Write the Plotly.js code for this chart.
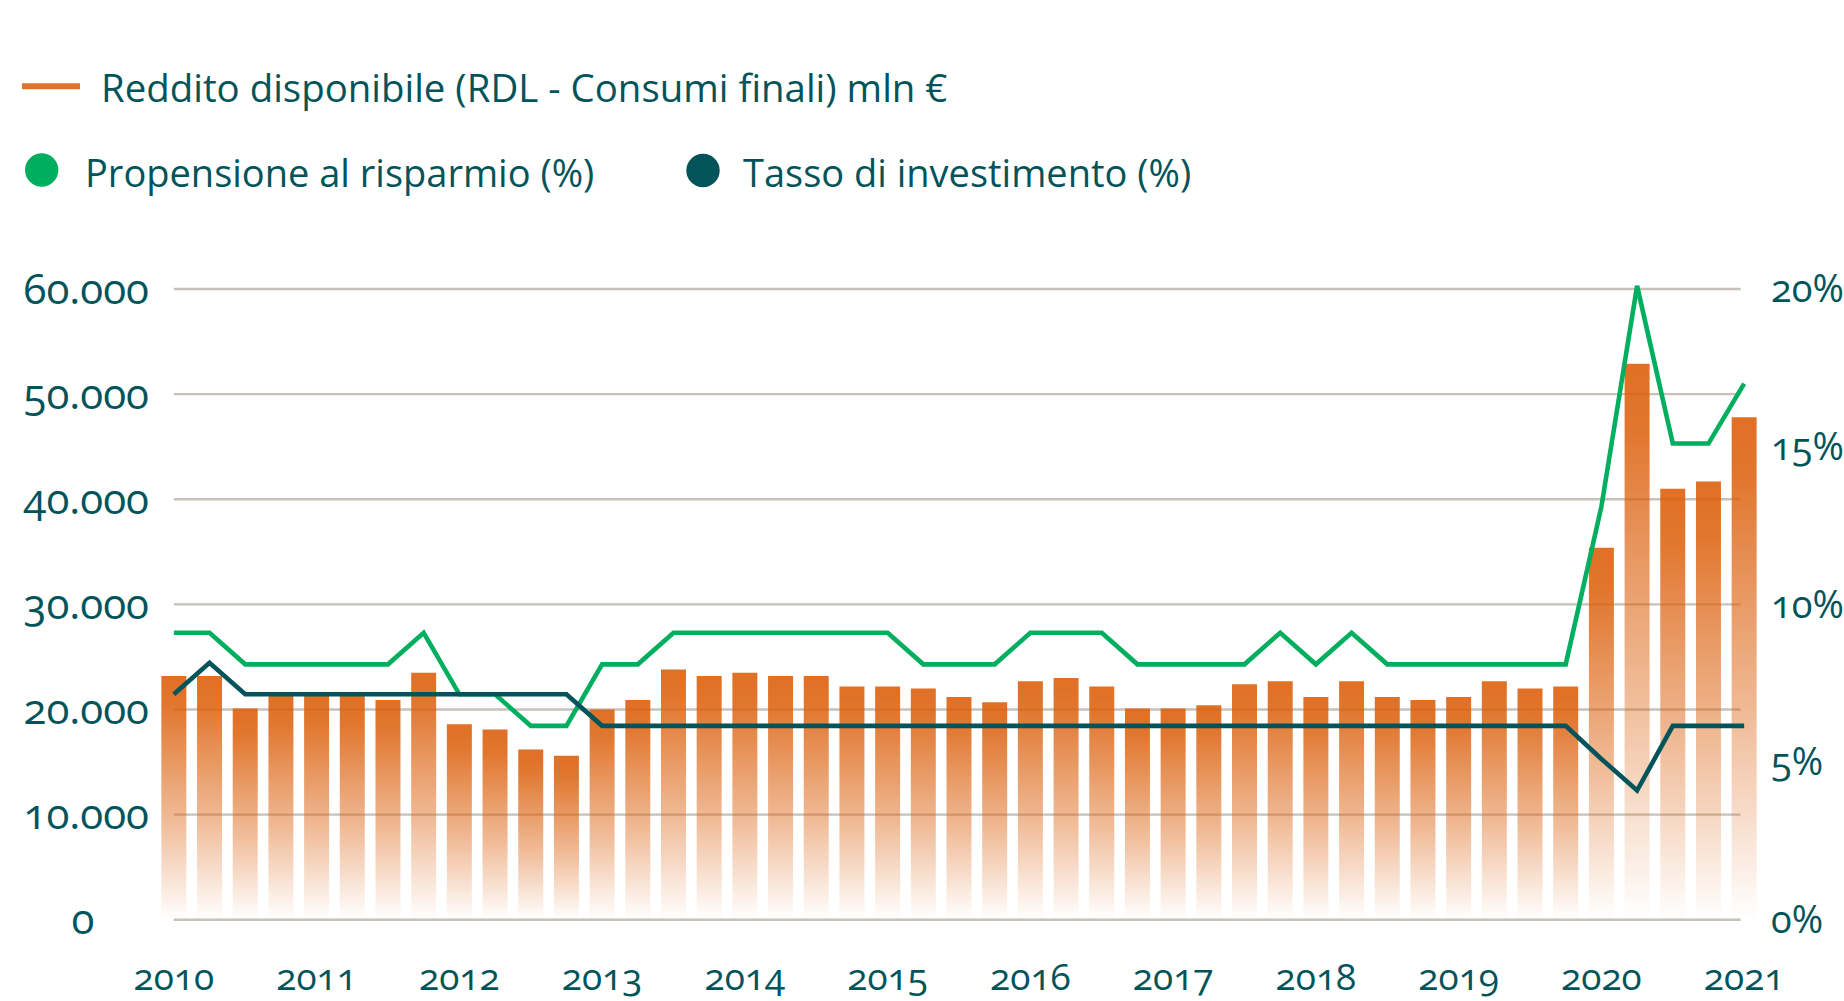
<!DOCTYPE html>
<html>
<head>
<meta charset="utf-8">
<script src="https://cdn.plot.ly/plotly-3.0.1.min.js"></script>
<style>
  html, body { margin: 0; padding: 0; background: #ffffff; }
  #chart { width: 1844px; height: 1001px; }
  .main-svg text { font-variant-numeric: oldstyle-nums !important; font-feature-settings: "onum" 1 !important; }
</style>
</head>
<body>
<div id="chart"></div>
<script>
// ---------- DATA ----------
const quarters = [
  '2010-T1','2010-T2','2010-T3','2010-T4',
  '2011-T1','2011-T2','2011-T3','2011-T4',
  '2012-T1','2012-T2','2012-T3','2012-T4',
  '2013-T1','2013-T2','2013-T3','2013-T4',
  '2014-T1','2014-T2','2014-T3','2014-T4',
  '2015-T1','2015-T2','2015-T3','2015-T4',
  '2016-T1','2016-T2','2016-T3','2016-T4',
  '2017-T1','2017-T2','2017-T3','2017-T4',
  '2018-T1','2018-T2','2018-T3','2018-T4',
  '2019-T1','2019-T2','2019-T3','2019-T4',
  '2020-T1','2020-T2','2020-T3','2020-T4',
  '2021-T1'
];

// Reddito disponibile (RDL - Consumi finali), mln €
const reddito = [
  23200, 23200, 20100, 21300,
  21300, 21300, 20900, 23500,
  18600, 18100, 16200, 15600,
  20000, 20900, 23800, 23200,
  23500, 23200, 23200, 22200,
  22200, 22000, 21200, 20700,
  22700, 23000, 22200, 20100,
  20100, 20400, 22400, 22700,
  21200, 22700, 21200, 20900,
  21200, 22700, 22000, 22200,
  35400, 52900, 41000, 41700,
  47800
];

// Propensione al risparmio (%)
const propensione = [
  9.1, 9.1, 8.1, 8.1,
  8.1, 8.1, 8.1, 9.1,
  7.15, 7.15, 6.15, 6.15,
  8.1, 8.1, 9.1, 9.1,
  9.1, 9.1, 9.1, 9.1,
  9.1, 8.1, 8.1, 8.1,
  9.1, 9.1, 9.1, 8.1,
  8.1, 8.1, 8.1, 9.1,
  8.1, 9.1, 8.1, 8.1,
  8.1, 8.1, 8.1, 8.1,
  13.1, 20.1, 15.1, 15.1,
  17.0
];

// Tasso di investimento (%)
const investimento = [
  7.15, 8.15, 7.15, 7.15,
  7.15, 7.15, 7.15, 7.15,
  7.15, 7.15, 7.15, 7.15,
  6.15, 6.15, 6.15, 6.15,
  6.15, 6.15, 6.15, 6.15,
  6.15, 6.15, 6.15, 6.15,
  6.15, 6.15, 6.15, 6.15,
  6.15, 6.15, 6.15, 6.15,
  6.15, 6.15, 6.15, 6.15,
  6.15, 6.15, 6.15, 6.15,
  5.1, 4.1, 6.15, 6.15,
  6.15
];

const yearTickVals = ['2010-T1','2011-T1','2012-T1','2013-T1','2014-T1','2015-T1','2016-T1','2017-T1','2018-T1','2019-T1','2020-T1','2021-T1'];
const yearTickText = ['2010','2011','2012','2013','2014','2015','2016','2017','2018','2019','2020','2021'];

const leftTickVals = [0, 10000, 20000, 30000, 40000, 50000, 60000];
const leftTickText = ['0', '10.000', '20.000', '30.000', '40.000', '50.000', '60.000'];

const rightTickVals = [0, 5, 10, 15, 20];
const rightTickText = ['0%', '5%', '10%', '15%', '20%'];

const legendLabels = [
  'Reddito disponibile (RDL - Consumi finali) mln €',
  'Propensione al risparmio (%)',
  'Tasso di investimento (%)'
];

// ---------- STYLE ----------
const TEAL = '#02545a';
const GREEN = '#00ae5f';
const ORANGE = '#e07329';
const GRID = '#c6c2ba';
const FONT = '"Open Sans", "Noto Sans", sans-serif';

// plot-area geometry (pixels)
const M = { l: 156, r: 82, t: 268, b: 77 };
const W = 1844, H = 1001;
const PW = W - M.l - M.r, PH = H - M.t - M.b;
const px2x = px => (px - M.l) / PW;
const py2y = py => (H - M.b - py) / PH;

const yMin = -400, yMax = 62000, ratio = 3000; // 20% <-> 60.000

// ---------- TRACES ----------
const traces = [
  {
    type: 'bar', name: legendLabels[0],
    x: quarters, y: reddito, yaxis: 'y',
    width: 0.7,
    marker: { color: '#dc600c', line: { width: 0 } },
    hoverinfo: 'skip'
  },
  {
    type: 'scatter', mode: 'lines', name: legendLabels[1],
    x: quarters, y: propensione, yaxis: 'y2',
    line: { color: GREEN, width: 4.6 },
    hoverinfo: 'skip'
  },
  {
    type: 'scatter', mode: 'lines', name: legendLabels[2],
    x: quarters, y: investimento, yaxis: 'y2',
    line: { color: TEAL, width: 4.6 },
    hoverinfo: 'skip'
  }
];

// ---------- SHAPES ----------
const shapes = leftTickVals.map(v => ({
  type: 'line', xref: 'x', yref: 'y', layer: 'below',
  x0: 0, x1: quarters.length - 1.1, y0: v, y1: v,
  line: { color: GRID, width: 2.4 }
}));

// legend symbols
shapes.push({
  type: 'line', xref: 'paper', yref: 'paper',
  xsizemode: 'pixel', ysizemode: 'pixel',
  xanchor: px2x(51), yanchor: py2y(86.3),
  x0: -29, x1: 29, y0: 0, y1: 0,
  line: { color: ORANGE, width: 6 }
});
shapes.push({
  type: 'circle', xref: 'paper', yref: 'paper',
  xsizemode: 'pixel', ysizemode: 'pixel',
  xanchor: px2x(41.7), yanchor: py2y(170),
  x0: -16.7, x1: 16.7, y0: -16.7, y1: 16.7,
  fillcolor: GREEN, line: { width: 0 }
});
shapes.push({
  type: 'circle', xref: 'paper', yref: 'paper',
  xsizemode: 'pixel', ysizemode: 'pixel',
  xanchor: px2x(703), yanchor: py2y(170.5),
  x0: -16.7, x1: 16.7, y0: -16.7, y1: 16.7,
  fillcolor: TEAL, line: { width: 0 }
});

// ---------- LEGEND TEXT ----------
const legendFont = { family: FONT, size: 38, color: TEAL };
const annotations = [
  { text: legendLabels[0], x: px2x(100), y: py2y(86.5), font: Object.assign({}, legendFont, { size: 38.4 }) },
  { text: legendLabels[1], x: px2x(84), y: py2y(171.7) },
  { text: legendLabels[2], x: px2x(742), y: py2y(171.7) }
].map(a => Object.assign({
  xref: 'paper', yref: 'paper', xanchor: 'left', yanchor: 'middle',
  showarrow: false, font: legendFont, borderpad: 0
}, a));

// centre the lone "0" under the wider labels
const NB = '\u00a0';
const leftTickTextShown = leftTickText.map(t => t.length === 1 ? t + NB.repeat(5) : t);

// ---------- LAYOUT ----------
const layout = {
  width: W, height: H,
  margin: { l: M.l, r: M.r, t: M.t, b: M.b, pad: 0 },
  paper_bgcolor: '#ffffff', plot_bgcolor: 'rgba(0,0,0,0)',
  showlegend: false,
  font: { family: FONT, color: TEAL },
  xaxis: {
    type: 'category', range: [-0.5, quarters.length - 0.5],
    tickmode: 'array', tickvals: yearTickVals, ticktext: yearTickText,
    showgrid: false, zeroline: false, showline: false, ticks: '',
    tickfont: { family: FONT, size: 37, color: TEAL },
    ticklabelstandoff: 28, fixedrange: true
  },
  yaxis: {
    range: [yMin, yMax],
    tickmode: 'array', tickvals: leftTickVals, ticktext: leftTickTextShown,
    showgrid: false, zeroline: false, showline: false, ticks: '',
    tickfont: { family: FONT, size: 42, color: TEAL },
    ticklabelstandoff: 6, fixedrange: true
  },
  yaxis2: {
    overlaying: 'y', side: 'right',
    range: [yMin / ratio, yMax / ratio],
    tickmode: 'array', tickvals: rightTickVals, ticktext: rightTickText,
    showgrid: false, zeroline: false, showline: false, ticks: '',
    tickfont: { family: FONT, size: 38, color: TEAL },
    ticklabelstandoff: 8, fixedrange: true
  },
  shapes: shapes,
  annotations: annotations
};

Plotly.newPlot('chart', traces, layout, { staticPlot: true, displayModeBar: false }).then(function (gd) {
  // per-bar vertical fade (orange at the top, fading to white at the base)
  const ns = 'http://www.w3.org/2000/svg';
  const svg = gd.querySelector('svg.main-svg');
  let defs = svg.querySelector('defs');
  if (!defs) { defs = document.createElementNS(ns, 'defs'); svg.insertBefore(defs, svg.firstChild); }
  const lg = document.createElementNS(ns, 'linearGradient');
  lg.setAttribute('id', 'barFade');
  lg.setAttribute('x1', '0'); lg.setAttribute('y1', '0');
  lg.setAttribute('x2', '0'); lg.setAttribute('y2', '1');
  [[0, 0.9], [0.12, 0.86], [0.6, 0.42], [0.98, 0.02], [1, 0]].forEach(function (s) {
    const st = document.createElementNS(ns, 'stop');
    st.setAttribute('offset', s[0]);
    st.setAttribute('stop-color', '#dc600c');
    st.setAttribute('stop-opacity', s[1]);
    lg.appendChild(st);
  });
  defs.appendChild(lg);
  gd.querySelectorAll('.barlayer .point path').forEach(function (p) {
    p.style.setProperty('fill', 'url(#barFade)');
    p.style.setProperty('fill-opacity', '1');
  });
});
</script>
</body>
</html>
